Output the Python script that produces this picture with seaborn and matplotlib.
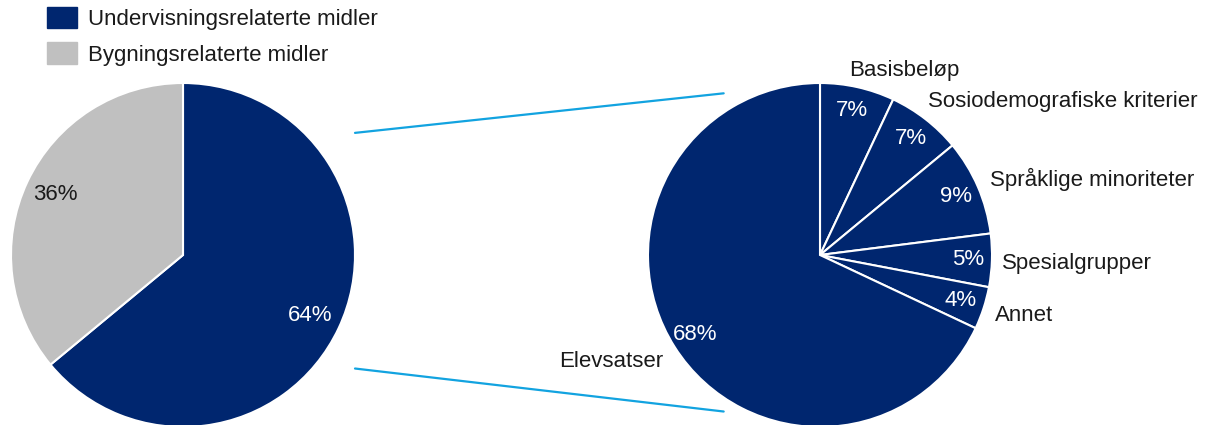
import matplotlib
matplotlib.use("Agg")
import matplotlib.pyplot as plt
from matplotlib.patches import ConnectionPatch, Patch
import seaborn as sns

# Total funding split
main_labels = ["Undervisningsrelaterte midler", "Bygningsrelaterte midler"]
main_values = [64, 36]

# Breakdown of the teaching-related funds
sub_labels = ["Basisbeløp", "Sosiodemografiske kriterier", "Språklige minoriteter",
              "Spesialgrupper", "Annet", "Elevsatser"]
sub_values = [7, 7, 9, 5, 4, 68]

sns.set_theme(style="white")
plt.rcParams["font.family"] = ["Liberation Sans", "DejaVu Sans"]

navy = "#00266F"
grey = "#C0C0C0"
link_color = "#12A3E0"
text_color = "#1A1A1A"
fs = 16

W, H = 1208, 425
fig = plt.figure(figsize=(W / 100, H / 100), dpi=100)


def axes_for(cx, cy, r):
    return fig.add_axes([(cx - r) / W, (H - cy - r) / H, 2 * r / W, 2 * r / H])


ax_left = axes_for(183, 255, 172)
ax_right = axes_for(820, 255, 172)

wedges_l, _, pct_l = ax_left.pie(
    main_values, colors=[navy, grey], startangle=90, counterclock=False,
    autopct=lambda p: f"{p:.0f}%", pctdistance=0.82,
    wedgeprops=dict(edgecolor="white", linewidth=1.5),
    textprops=dict(fontsize=fs),
)
pct_l[0].set_color("white")
pct_l[1].set_color(text_color)

wedges_r, texts_r, pct_r = ax_right.pie(
    sub_values, colors=[navy] * len(sub_values), startangle=90, counterclock=False,
    labels=sub_labels, labeldistance=1.1,
    autopct=lambda p: f"{p:.0f}%", pctdistance=0.86,
    wedgeprops=dict(edgecolor="white", linewidth=1.5),
    textprops=dict(fontsize=fs, color=text_color),
)
for t in pct_r:
    t.set_color("white")

# Label anchor positions around the breakdown pie (unit-radius coordinates)
label_pos = [(0.17, 1.075, "left"), (0.63, 0.89, "left"), (0.99, 0.44, "left"),
             (1.06, -0.05, "left"), (1.02, -0.35, "left"), (-0.91, -0.62, "right")]
for t, (x, y, ha) in zip(texts_r, label_pos):
    t.set_position((x, y))
    t.set_ha(ha)
    t.set_va("center")

for ax in (ax_left, ax_right):
    ax.set_xlim(-1, 1)
    ax.set_ylim(-1, 1)
    ax.set_aspect("equal")
    ax.axis("off")

# Connector lines from the teaching slice to the breakdown pie
for (x0, y0), (x1, y1) in [((1.0, 0.71), (-0.56, 0.94)), ((1.0, -0.66), (-0.56, -0.91))]:
    con = ConnectionPatch(xyA=(x0, y0), coordsA=ax_left.transData,
                          xyB=(x1, y1), coordsB=ax_right.transData,
                          color=link_color, linewidth=1.6)
    fig.add_artist(con)

handles = [Patch(facecolor=navy, edgecolor=navy), Patch(facecolor=grey, edgecolor=grey)]
fig.legend(handles, main_labels, loc="upper left", bbox_to_anchor=(47 / W, 1 - 7 / H),
           frameon=False, fontsize=fs, handlelength=1.35, handleheight=1.1,
           handletextpad=0.5, labelspacing=0.55, borderpad=0, borderaxespad=0,
           labelcolor=text_color)

fig.savefig("out.png", dpi=100)
